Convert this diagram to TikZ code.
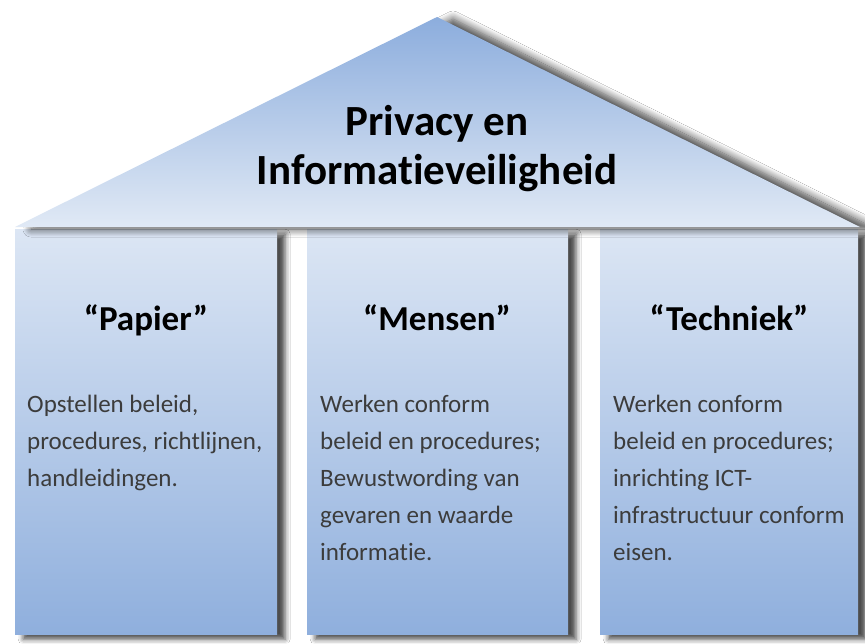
\documentclass[tikz,border=0pt]{standalone}
\usepackage{fontspec}
\setmainfont[Ligatures=NoCommon]{Carlito}
\usetikzlibrary{shadows.blur}
\definecolor{pillartop}{HTML}{DCE6F4}
\definecolor{pillarbot}{HTML}{8FAFDD}
\definecolor{rooftop}{HTML}{8CADDD}
\definecolor{roofbot}{HTML}{E0E9F5}
\definecolor{bodygray}{HTML}{3C3C3C}
\begin{document}
\begin{tikzpicture}[x=1pt,y=-1pt,
  pillar/.style={anchor=north west, inner sep=0pt, draw=none,
    top color=pillartop, bottom color=pillarbot, minimum height=405pt,
    blur shadow={shadow xshift=8pt, shadow yshift=-5pt, shadow blur radius=5pt, shadow opacity=70}},
  heading/.style={font=\fontsize{35}{42}\selectfont\bfseries, text=black, anchor=base, inner sep=0pt},
  bodytext/.style={font=\fontsize{25}{37}\selectfont, text=bodygray, anchor=north west, align=left, inner sep=0pt},
  titletext/.style={font=\fontsize{43}{49}\selectfont\bfseries, text=black, align=center, anchor=north, inner sep=0pt},
  roofshade/.style={top color=rooftop, bottom color=roofbot,
    blur shadow={shadow xshift=16pt, shadow yshift=-2pt, shadow blur radius=8pt, shadow opacity=75, shadow blur steps=12}}]
\useasboundingbox (0,0) rectangle (865,643);
\fill[white] (0,0) rectangle (865,643);
% pillars
\node[pillar, minimum width=262pt] (p1) at (15,229) {};
\node[pillar, minimum width=261pt] (p2) at (307,229) {};
\node[pillar, minimum width=258pt] (p3) at (600,229) {};
% roof
\coordinate (apex) at (437,17);
\coordinate (rl) at (15,227);
\coordinate (rr) at (860,227);
\path[roofshade] (rl) -- (apex) -- (rr) -- cycle;
% title
\node[titletext] (title) at (437,101) {\strut Privacy en\\Informatieveiligheid};
% headings
\node[heading] (h1) at (146,330) {“Papier”};
\node[heading] (h2) at (437,330) {“Mensen”};
\node[heading] (h3) at (729,330) {“Techniek”};
% body texts
\node[bodytext] (b1) at (27,386) {\strut Opstellen beleid,\\procedures, richtlijnen,\\handleidingen.};
\node[bodytext] (b2) at (320,386) {\strut Werken conform\\beleid en procedures;\\Bewustwording van\\gevaren en waarde\\informatie.};
\node[bodytext] (b3) at (613,386) {\strut Werken conform\\beleid en procedures;\\inrichting ICT-\\infrastructuur conform\\eisen.};
\end{tikzpicture}
\end{document}
